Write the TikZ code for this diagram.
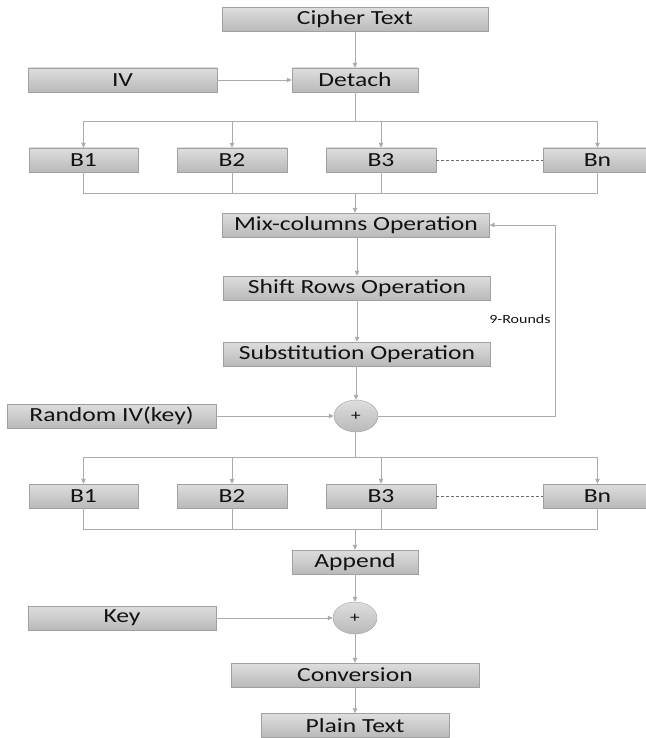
\documentclass[tikz,border=0pt]{standalone}
\usepackage{fontspec}
\setmainfont{Carlito}[FakeStretch=1.28]
\usetikzlibrary{arrows.meta,shapes.geometric}

\definecolor{boxtop}{HTML}{DEDEDE}
\definecolor{boxbot}{HTML}{B9B9B9}
\definecolor{edge}{HTML}{A0A0A0}
\definecolor{wire}{HTML}{ABABAB}
\definecolor{ink}{HTML}{121212}

\tikzset{
  blocco/.style={draw=edge, top color=boxtop, bottom color=boxbot, minimum height=24pt,
    inner sep=0pt, text=ink, font=\fontsize{20}{22}\selectfont},
  somma/.style={ellipse, draw=edge, top color=boxtop, bottom color=boxbot, minimum width=44pt,
    minimum height=32pt, inner sep=0pt, text=ink, font=\fontsize{15}{17}\selectfont},
  filo/.style={draw=wire, line width=0.8pt},
  freccia/.style={filo, -{Triangle[length=5pt,width=4.5pt]}},
  puntini/.style={draw=gray!85!black, line width=0.8pt, dash pattern=on 3pt off 2pt}
}

\begin{document}
\begin{tikzpicture}[x=1pt, y=-1pt]
        \useasboundingbox (0,0) rectangle (645,738);

        % Ingresso
        \node[blocco, minimum width=266pt] (cipher) at (355,19.5) {Cipher Text};
        \node[blocco, minimum width=189pt] (iv) at (122.5,80) {IV};
        \node[blocco, minimum width=126pt] (detach) at (355,80) {Detach};
        \draw[freccia] (cipher) -- (detach);
        \draw[freccia] (iv) -- (detach);

        % Primi blocchi
        \node[blocco, minimum width=109pt] (b1) at (83.5,160) {B1};
        \node[blocco, minimum width=110pt] (b2) at (232,160) {B2};
        \node[blocco, minimum width=110pt] (b3) at (381,160) {B3};
        \node[blocco, minimum width=109pt] (bn) at (597.5,160) {Bn};
        \coordinate (split1) at (355,121);
        \coordinate (merge1) at (355,193);
        \draw[filo] (detach) -- (split1);
        \foreach \b in {b1,b2,b3,bn}
            \draw[freccia] (split1) -| (\b.north);
        \foreach \b in {b1,b2,b3,bn}
            \draw[filo] (\b.south) |- (merge1);
        \draw[puntini] (b3) -- (bn);

        % Round
        \node[blocco, minimum width=267pt] (mix) at (356,225) {Mix-columns Operation};
        \node[blocco, minimum width=267pt] (shift) at (357,288) {Shift Rows Operation};
        \node[blocco, minimum width=267pt] (subst) at (357,354) {Substitution Operation};
        \node[somma] (xor1) at (356,416) {+};
        \node[blocco, minimum width=209pt] (rkey) at (111.5,416) {Random IV(key)};
        \draw[freccia] (merge1) -- (merge1 |- mix.north);
        \draw[freccia] (mix.south -| shift) -- (shift);
        \draw[freccia] (shift) -- (subst);
        \draw[freccia] (subst.south -| xor1) -- (xor1);
        \draw[freccia] (rkey) -- (xor1);

        % Ritorno per i round
        \coordinate (giro) at (555,416);
        \draw[freccia] (xor1.east) -- (giro) |- (mix.east);
        \node[text=ink, font=\fontsize{12.5}{14}\selectfont] (giri) at (520,319) {9-Rounds};

        % Secondi blocchi
        \node[blocco, minimum width=109pt] (c1) at (83.5,496) {B1};
        \node[blocco, minimum width=110pt] (c2) at (232,496) {B2};
        \node[blocco, minimum width=110pt] (c3) at (381,496) {B3};
        \node[blocco, minimum width=109pt] (cn) at (597.5,496) {Bn};
        \coordinate (split2) at (355,457);
        \coordinate (merge2) at (355,529);
        \draw[filo] (xor1.south -| split2) -- (split2);
        \foreach \b in {c1,c2,c3,cn}
            \draw[freccia] (split2) -| (\b.north);
        \foreach \b in {c1,c2,c3,cn}
            \draw[filo] (\b.south) |- (merge2);
        \draw[puntini] (c3) -- (cn);

        % Uscita
        \node[blocco, minimum width=126pt] (append) at (355,562) {Append};
        \node[somma] (xor2) at (355,618) {+};
        \node[blocco, minimum width=188pt] (key) at (122,618) {Key};
        \node[blocco, minimum width=248pt] (conv) at (355,675) {Conversion};
        \node[blocco, minimum width=188pt] (plain) at (355,725.5) {Plain Text};
        \draw[freccia] (merge2) -- (append);
        \draw[freccia] (append) -- (xor2);
        \draw[freccia] (key) -- (xor2);
        \draw[freccia] (xor2) -- (conv);
        \draw[freccia] (conv) -- (plain);
    \end{tikzpicture}
\end{document}
